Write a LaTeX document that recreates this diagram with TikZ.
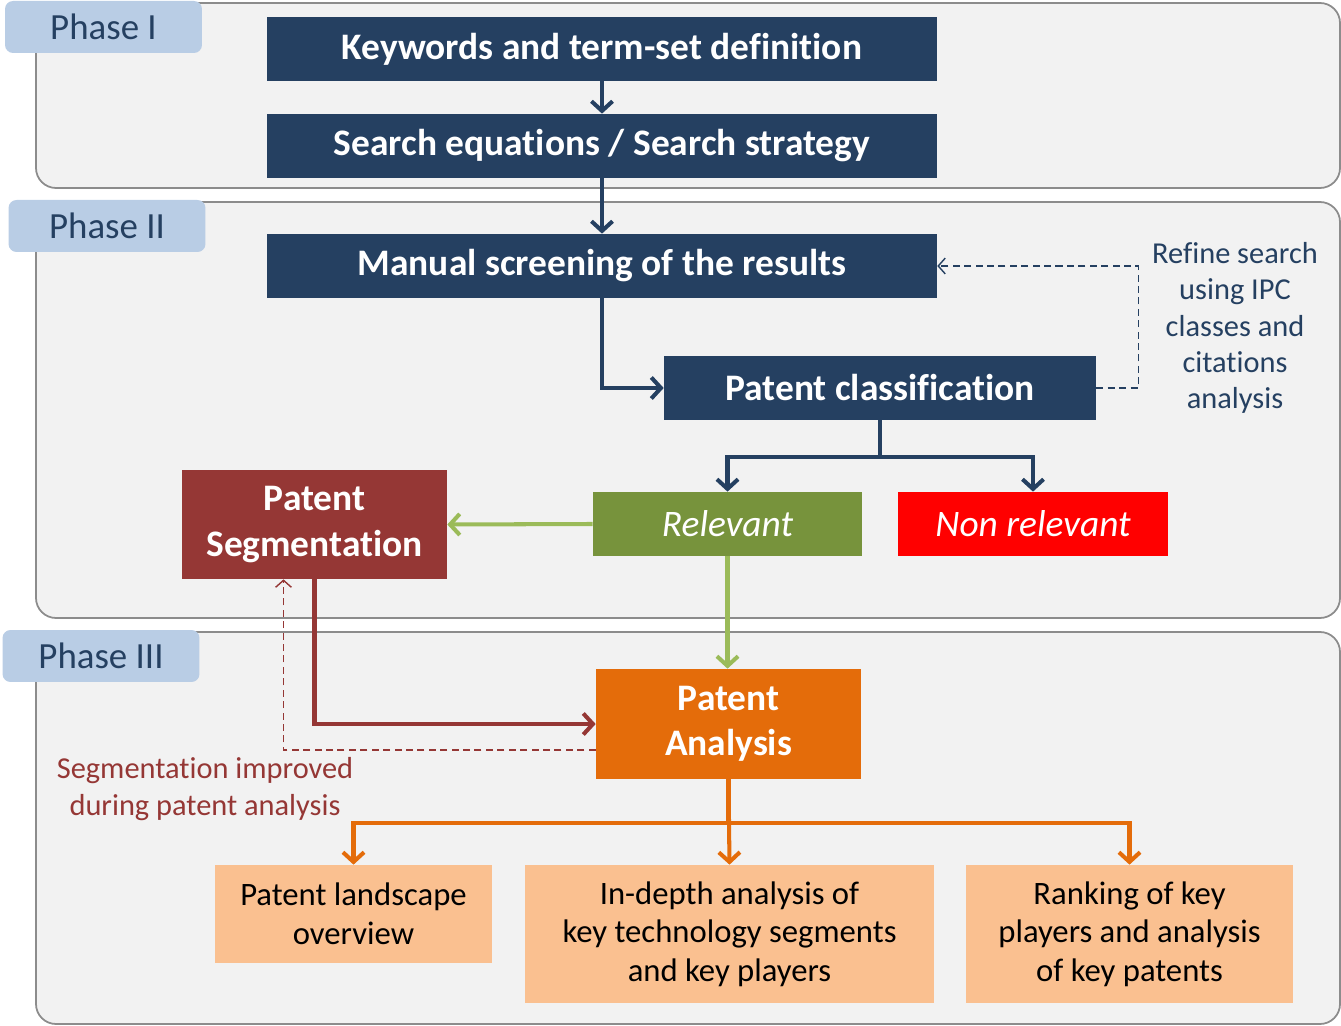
\documentclass[tikz,border=0pt]{standalone}
\usepackage{fontspec}
\setmainfont{Carlito}[Ligatures={CommonOff,ContextualOff}]
\usepackage{tikz}
\usepackage{xcolor}
\usetikzlibrary{arrows.meta,calc}

\definecolor{azul}{HTML}{254061}
\definecolor{pestana}{HTML}{B9CDE5}
\definecolor{fondo}{HTML}{F2F2F2}
\definecolor{borde}{HTML}{8C8C8C}
\definecolor{verde}{HTML}{77933C}
\definecolor{verdeclaro}{HTML}{9BBB59}
\definecolor{ladrillo}{HTML}{953735}
\definecolor{naranja}{HTML}{E46C0A}
\definecolor{durazno}{HTML}{FAC090}

\begin{document}
\begin{tikzpicture} %Diagrama de fases
  [
    x=0.02cm, y=-0.02cm,
    % Definimos los estilos para no repetir codigo
    fase/.style={draw=borde, line width=1pt, fill=fondo, rounded corners=0.4cm},
    pestana/.style={fill=pestana, rounded corners=0.16cm, minimum width=3.94cm, minimum height=1.04cm, text=azul, font=\fontsize{21}{24}\selectfont},
    caja/.style={inner sep=0pt, align=center, text=white, font=\fontsize{21.3}{26}\selectfont\bfseries},
    resultado/.style={inner sep=0pt, align=center, text=black, font=\fontsize{18.6}{22}\selectfont, fill=durazno},
    nota/.style={align=center, font=\fontsize{17.3}{20.7}\selectfont},
    flecha/.style={line width=2.3pt, -{Straight Barb[length=5.5pt,width=12pt]}},
    punteada/.style={line width=0.8pt, dash pattern=on 4pt off 2.5pt, -{Straight Barb[length=4pt,width=9pt]}}
  ]
  \useasboundingbox (0,0) rectangle (1341,1026);
  % Fondos de las fases
  \draw[fase] (36,3) rectangle (1340,188);
  \draw[fase] (36,202) rectangle (1340,618);
  \draw[fase] (36,632) rectangle (1340,1024);
  \node[pestana] (f1) at (103.5,27) {Phase I};
  \node[pestana] (f2) at (107,226) {Phase II};
  \node[pestana] (f3) at (101,656) {Phase III};

  \node[caja, fill=azul, minimum width=13.4cm, minimum height=1.28cm] (kw) at (602,49) {Keywords and term-set definition};
  \node[caja, fill=azul, minimum width=13.4cm, minimum height=1.28cm] (search) at (602,146) {Search equations / Search strategy};
  \node[caja, fill=azul, minimum width=13.4cm, minimum height=1.28cm] (screen) at (602,266) {Manual screening of the results};
  \node[caja, fill=azul, minimum width=8.64cm, minimum height=1.28cm] (classif) at (880,388) {Patent classification};
  \node[caja, fill=verde, minimum width=5.38cm, minimum height=1.28cm, font=\fontsize{21.3}{24}\selectfont\itshape] (relev) at (727.5,524) {Relevant};
  \node[caja, fill=red, minimum width=5.4cm, minimum height=1.28cm, font=\fontsize{21.3}{24}\selectfont\itshape] (nonrel) at (1033,524) {Non relevant};
  \node[caja, fill=ladrillo, minimum width=5.3cm, minimum height=2.18cm] (segm) at (314.5,524.5) {Patent\\Segmentation};
  \node[caja, fill=naranja, minimum width=5.3cm, minimum height=2.2cm, font=\fontsize{21.3}{25.5}\selectfont\bfseries] (analysis) at (728.5,724) {Patent\\Analysis};
  \node[resultado, minimum width=5.54cm, minimum height=1.96cm] (land) at (353.5,914) {Patent landscape\\overview};
  \node[resultado, minimum width=8.18cm, minimum height=2.76cm] (indepth) at (729.5,934) {In-depth analysis of\\key technology segments\\and key players};
  \node[resultado, minimum width=6.54cm, minimum height=2.76cm] (rank) at (1129.5,934) {Ranking of key\\players and analysis\\of key patents};

  \node[nota, text=azul] (refine) at (1235,328) {Refine search\\using IPC\\classes and\\citations\\analysis};
  \node[nota, text=ladrillo] (mejora) at (205,789) {Segmentation improved\\during patent analysis};

  \draw[flecha, azul] (kw) -- (search);
  \draw[flecha, azul] (search) -- (screen);
  \draw[flecha, azul] (screen.south) |- (classif.west);
  \draw[flecha, azul] (classif.south) -- ++(0,37) -| (relev.north);
  \draw[flecha, azul] (classif.south) -- ++(0,37) -| (nonrel.north);
  \draw[punteada, azul] (classif.east) -- ++(42,0) |- (screen.east);
  \draw[flecha, verdeclaro] (relev.west) -- (segm.east);
  \draw[flecha, verdeclaro] (relev.south) -- (relev.south |- analysis.north);
  \draw[flecha, ladrillo] (segm.south) |- (analysis.west);
  \draw[punteada, ladrillo] ($(analysis.west)+(0,26)$) -| ($(segm.south)+(-31,0)$);
  \draw[flecha, naranja] (analysis.south) -- (indepth.north);
  \draw[flecha, naranja] (analysis.south) -- ++(0,44) -| (land.north);
  \draw[flecha, naranja] (analysis.south) -- ++(0,44) -| (rank.north);

\end{tikzpicture}
\end{document}
